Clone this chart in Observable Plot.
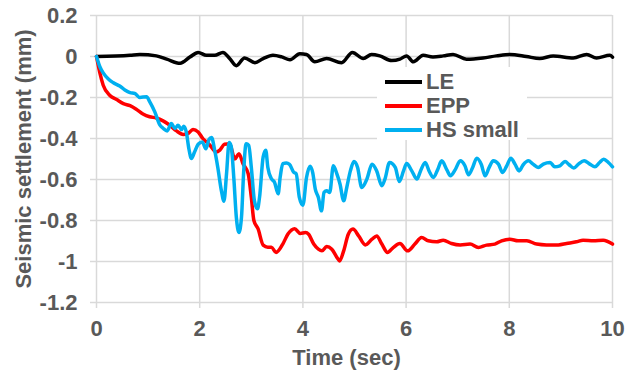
<!DOCTYPE html>
<html><head><meta charset="utf-8">
<script src="https://cdn.jsdelivr.net/npm/d3@7"></script>
<script src="https://cdn.jsdelivr.net/npm/@observablehq/plot@0.6"></script>
<style>
body{margin:0;background:#fff;}
#wrap{position:relative;width:625px;height:372px;font-family:"Liberation Sans",Arial,sans-serif;}
.leg{position:absolute;left:377px;top:67px;width:150px;height:73px;background:#fff;}
.sw{position:absolute;left:8px;width:37px;height:4px;}
.lbl{position:absolute;left:49px;font-size:22px;font-weight:bold;color:#595959;line-height:20px;height:20px;white-space:nowrap;}
</style></head><body><div id="wrap"></div>
<script>
const seriesNames = ["LE", "EPP", "HS small"];
const seriesColors = ["#000000", "#ff0000", "#00b0f0"];
const xTicks = [0, 2, 4, 6, 8, 10];
const yTicks = [-1.2, -1, -0.8, -0.6, -0.4, -0.2, 0, 0.2];
const xLabel = "Time (sec)";
const yLabel = "Seismic settlement (mm)";

// [time (sec), settlement (mm)]
const leData = [[0,0],[0.65,0.006],[0.84,0.01],[1.16,0.003],[1.36,-0.013],[1.62,-0.033],[1.81,-0.003],[1.97,0.02],[2.13,0.006],[2.29,0.006],[2.45,0.02],[2.58,-0.01],[2.71,-0.045],[2.87,-0.007],[3.07,-0.03],[3.23,-0.01],[3.42,0.006],[3.59,-0.002],[3.75,-0.016],[3.94,0.013],[4.07,0.01],[4.23,-0.026],[4.46,-0.01],[4.75,-0.03],[4.96,0.02],[5.17,-0.01],[5.33,0.01],[5.49,0.003],[5.72,-0.02],[5.88,-0.013],[6.01,0.003],[6.14,-0.026],[6.33,0.006],[6.52,-0.002],[6.72,0.003],[6.91,0.01],[7.17,-0.013],[7.49,-0.007],[7.75,0.003],[8.01,0.01],[8.33,0],[8.59,-0.01],[8.85,0.003],[9.24,-0.007],[9.5,0.01],[9.69,-0.007],[9.95,0.006],[10,-0.003]];

const eppData = [[0,0],[0.065,-0.08],[0.13,-0.14],[0.26,-0.19],[0.39,-0.21],[0.52,-0.23],[0.65,-0.24],[0.77,-0.257],[0.9,-0.28],[1.03,-0.294],[1.16,-0.3],[1.29,-0.314],[1.42,-0.335],[1.55,-0.363],[1.68,-0.38],[1.77,-0.376],[1.87,-0.356],[1.97,-0.368],[2.06,-0.4],[2.19,-0.43],[2.32,-0.466],[2.39,-0.457],[2.48,-0.428],[2.58,-0.425],[2.68,-0.5],[2.76,-0.474],[2.84,-0.523],[2.94,-0.572],[3.0,-0.686],[3.05,-0.8],[3.13,-0.84],[3.23,-0.92],[3.32,-0.93],[3.39,-0.93],[3.48,-0.956],[3.61,-0.915],[3.71,-0.866],[3.84,-0.84],[3.95,-0.863],[4.05,-0.859],[4.11,-0.867],[4.21,-0.915],[4.3,-0.94],[4.37,-0.948],[4.46,-0.927],[4.56,-0.94],[4.66,-0.98],[4.71,-0.997],[4.79,-0.948],[4.88,-0.867],[4.97,-0.842],[5.08,-0.875],[5.21,-0.919],[5.34,-0.891],[5.43,-0.875],[5.53,-0.915],[5.64,-0.956],[5.75,-0.932],[5.88,-0.912],[6.03,-0.948],[6.17,-0.915],[6.3,-0.883],[6.43,-0.899],[6.59,-0.904],[6.72,-0.896],[6.88,-0.912],[7.05,-0.919],[7.24,-0.915],[7.4,-0.932],[7.56,-0.92],[7.72,-0.915],[7.85,-0.899],[8.01,-0.891],[8.17,-0.899],[8.34,-0.899],[8.53,-0.915],[8.72,-0.919],[8.95,-0.919],[9.11,-0.912],[9.3,-0.904],[9.43,-0.896],[9.63,-0.899],[9.82,-0.896],[10,-0.915]];

const hsData = [[0,0],[0.065,-0.05],[0.13,-0.08],[0.23,-0.11],[0.32,-0.127],[0.45,-0.144],[0.55,-0.163],[0.65,-0.176],[0.74,-0.18],[0.84,-0.2],[0.97,-0.196],[1.03,-0.22],[1.13,-0.27],[1.23,-0.335],[1.29,-0.35],[1.37,-0.363],[1.45,-0.327],[1.52,-0.351],[1.58,-0.335],[1.65,-0.356],[1.69,-0.34],[1.74,-0.368],[1.79,-0.45],[1.84,-0.498],[1.9,-0.466],[1.97,-0.428],[2.05,-0.417],[2.12,-0.45],[2.18,-0.405],[2.23,-0.395],[2.29,-0.457],[2.35,-0.54],[2.42,-0.654],[2.47,-0.706],[2.52,-0.572],[2.57,-0.42],[2.61,-0.438],[2.66,-0.588],[2.71,-0.784],[2.76,-0.858],[2.81,-0.784],[2.85,-0.572],[2.9,-0.425],[2.95,-0.433],[3.0,-0.54],[3.06,-0.703],[3.12,-0.743],[3.16,-0.686],[3.23,-0.49],[3.28,-0.457],[3.32,-0.54],[3.39,-0.596],[3.45,-0.613],[3.52,-0.67],[3.56,-0.588],[3.61,-0.523],[3.68,-0.52],[3.74,-0.526],[3.82,-0.564],[3.87,-0.572],[3.93,-0.686],[4.0,-0.725],[4.07,-0.59],[4.14,-0.535],[4.19,-0.566],[4.24,-0.647],[4.3,-0.688],[4.36,-0.753],[4.41,-0.663],[4.46,-0.655],[4.52,-0.663],[4.59,-0.533],[4.66,-0.574],[4.72,-0.623],[4.79,-0.704],[4.85,-0.639],[4.92,-0.558],[4.99,-0.512],[5.06,-0.541],[5.14,-0.639],[5.24,-0.598],[5.34,-0.525],[5.43,-0.558],[5.53,-0.631],[5.59,-0.598],[5.68,-0.517],[5.79,-0.541],[5.87,-0.61],[5.95,-0.558],[6.01,-0.522],[6.11,-0.558],[6.21,-0.598],[6.28,-0.558],[6.37,-0.517],[6.45,-0.561],[6.53,-0.59],[6.61,-0.553],[6.69,-0.509],[6.79,-0.553],[6.86,-0.582],[6.95,-0.553],[7.05,-0.509],[7.14,-0.533],[7.21,-0.577],[7.29,-0.541],[7.37,-0.496],[7.46,-0.528],[7.53,-0.582],[7.61,-0.541],[7.69,-0.509],[7.79,-0.525],[7.87,-0.566],[7.95,-0.533],[8.03,-0.496],[8.11,-0.525],[8.19,-0.558],[8.27,-0.528],[8.37,-0.509],[8.46,-0.525],[8.56,-0.541],[8.66,-0.525],[8.79,-0.517],[8.88,-0.538],[8.98,-0.533],[9.08,-0.512],[9.16,-0.528],[9.25,-0.544],[9.34,-0.525],[9.45,-0.509],[9.56,-0.525],[9.66,-0.538],[9.75,-0.517],[9.83,-0.501],[9.92,-0.517],[10,-0.538]];

const rows = [];
[leData, eppData, hsData].forEach((arr, i) => arr.forEach(([t, v]) => rows.push({series: seriesNames[i], t, v})));

const font = '"Liberation Sans", Arial, sans-serif';
const chart = Plot.plot({
  width: 625, height: 372,
  marginLeft: 96, marginRight: 13, marginTop: 15, marginBottom: 70,
  style: {fontFamily: font, background: "#fff", color: "#595959", overflow: "visible"},
  x: {domain: [0, 10]},
  y: {domain: [-1.2, 0.2]},
  color: {domain: seriesNames, range: seriesColors},
  marks: [
    Plot.gridY(yTicks, {stroke: "#d9d9d9", strokeOpacity: 1, strokeWidth: 1.5}),
    Plot.gridX(xTicks, {stroke: "#d9d9d9", strokeOpacity: 1, strokeWidth: 1.5}),
    Plot.axisY(yTicks, {tickSize: 6, tickPadding: 13, stroke: "#d9d9d9", strokeWidth: 1.5, fill: "#595959", fontSize: 22, fontWeight: "bold", tickFormat: d => String(+d.toFixed(1)), label: null}),
    Plot.axisX(xTicks, {tickSize: 6, tickPadding: 12, stroke: "#d9d9d9", strokeWidth: 1.5, fill: "#595959", fontSize: 22, fontWeight: "bold", tickFormat: d => String(d), label: null}),
    Plot.line(rows, {x: "t", y: "v", z: "series", stroke: "series", strokeWidth: 3.5, curve: "monotone-x"}),
    Plot.text([xLabel], {text: d => d, frameAnchor: "bottom", textAnchor: "middle", dx: -8, dy: 55, lineAnchor: "middle", fontSize: 22, fontWeight: "bold", fill: "#595959"}),
    Plot.text([yLabel], {text: d => d, frameAnchor: "left", textAnchor: "middle", rotate: -90, dx: -73, dy: 0, lineAnchor: "middle", fontSize: 22, fontWeight: "bold", fill: "#595959"})
  ]
});
const wrap = document.getElementById("wrap");
wrap.appendChild(chart);

const leg = document.createElement("div");
leg.className = "leg";
const centers = [14.5, 38.5, 62.5];
seriesNames.forEach((name, i) => {
  const sw = document.createElement("div");
  sw.className = "sw";
  sw.style.top = (centers[i] - 2) + "px";
  sw.style.background = seriesColors[i];
  leg.appendChild(sw);
  const lb = document.createElement("div");
  lb.className = "lbl";
  lb.style.top = (centers[i] - 10) + "px";
  lb.textContent = name;
  leg.appendChild(lb);
});
wrap.appendChild(leg);
</script></body></html>
